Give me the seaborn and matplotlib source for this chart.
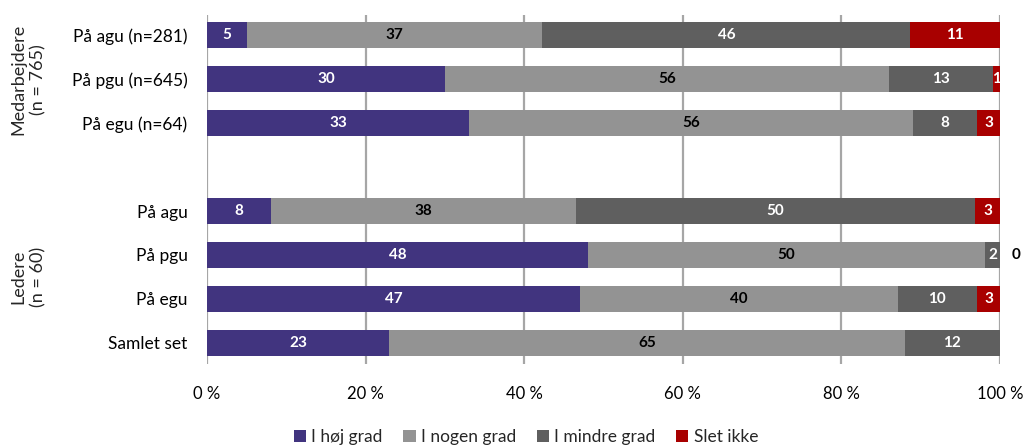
import numpy as np
import pandas as pd
import matplotlib
matplotlib.use('Agg')
import matplotlib.pyplot as plt
import matplotlib.transforms as mtransforms
from matplotlib.patches import Patch
import seaborn as sns

sns.set_theme(style='white')
plt.rcParams['font.family'] = ['Lato', 'DejaVu Sans']

# rows (top to bottom), "" is the empty slot between the two groups
rows = ['På agu (n=281)', 'På pgu (n=645)', 'På egu (n=64)', '',
        'På agu', 'På pgu', 'På egu', 'Samlet set']

# percentages
hoj = [5.0, 30.0, 33.0, np.nan, 8.1, 48.0, 47.0, 23.0]
nogen = [37.3, 56.0, 56.0, np.nan, 38.4, 50.1, 40.1, 65.0]
mindre = [46.4, 13.1, 8.1, np.nan, 50.4, 1.9, 10.0, 12.0]
slet = [11.3, 0.9, 2.9, np.nan, 3.1, 0.0, 2.9, np.nan]

series = ['I høj grad', 'I nogen grad', 'I mindre grad', 'Slet ikke']
colors = ['#41347F', '#939393', '#5F5F5F', '#A80000']
label_colors = ['white', 'black', 'white', 'white']

groups = ['Medarbejdere\n(n = 765)', 'Ledere\n(n = 60)']
group_rows = [[0, 1, 2], [4, 5, 6, 7]]

df = pd.DataFrame({'row': rows, 'hoj': hoj, 'nogen': nogen,
                   'mindre': mindre, 'slet': slet})
vals = df[['hoj', 'nogen', 'mindre', 'slet']].fillna(0).to_numpy()
cum = vals.cumsum(axis=1)
empty = df['hoj'].isna().to_numpy()

fig = plt.figure(figsize=(10.26, 4.46), dpi=100)
ax = fig.add_axes([207 / 1026, (446 - 364) / 446, 793 / 1026, 349 / 446])

# stacked bars: draw cumulative totals from the widest down
for k in range(3, -1, -1):
    d = pd.DataFrame({'row': rows, 'x': np.where(empty, np.nan, cum[:, k])})
    sns.barplot(data=d, y='row', x='x', order=rows, orient='h',
                color=colors[k], saturation=1, width=0.6, ax=ax,
                linewidth=0, errorbar=None)

# segment labels
raw = df[['hoj', 'nogen', 'mindre', 'slet']].to_numpy()
for i in range(len(rows)):
    if empty[i]:
        continue
    for k in range(4):
        v = raw[i, k]
        if np.isnan(v):
            continue
        if v == 0:
            ax.text(101.5, i, '0', ha='left', va='center', fontsize=11,
                    fontweight='bold', color='black', clip_on=False)
            continue
        ax.text(cum[i, k] - v / 2, i, f'{int(round(v))}', ha='center',
                va='center', fontsize=11, fontweight='bold',
                color=label_colors[k])

ax.set_xlim(0, 100)
ax.set_ylim(7.48, -0.46)
ax.set_xticks(np.arange(0, 101, 20))
ax.set_xticklabels([f'{t} %' for t in range(0, 101, 20)])
ax.set_xlabel('')
ax.set_ylabel('')
ax.xaxis.grid(True, color='#A6A6A6', linewidth=1.6)
ax.yaxis.grid(False)
ax.set_axisbelow(True)
for s in ax.spines.values():
    s.set_visible(False)
ax.tick_params(axis='x', length=0, pad=16, labelsize=12, colors='black')
ax.tick_params(axis='y', length=0, pad=14, labelsize=12.5, colors='black')

# group labels on the far left
trans = mtransforms.blended_transform_factory(fig.transFigure, ax.transData)
for g, idx in zip(groups, group_rows):
    ax.text(28 / 1026, np.mean(idx), g, rotation=90, ha='center',
            va='center', fontsize=13, transform=trans, linespacing=1.3)

handles = [Patch(facecolor=c, edgecolor='none', label=s)
           for s, c in zip(series, colors)]
fig.legend(handles=handles, loc='center', bbox_to_anchor=(526 / 1026, 9 / 446),
           ncol=4, frameon=False, fontsize=12.5, handlelength=0.7,
           handleheight=0.7, handletextpad=0.3, columnspacing=1.2)

plt.savefig('out.png', dpi=100)
